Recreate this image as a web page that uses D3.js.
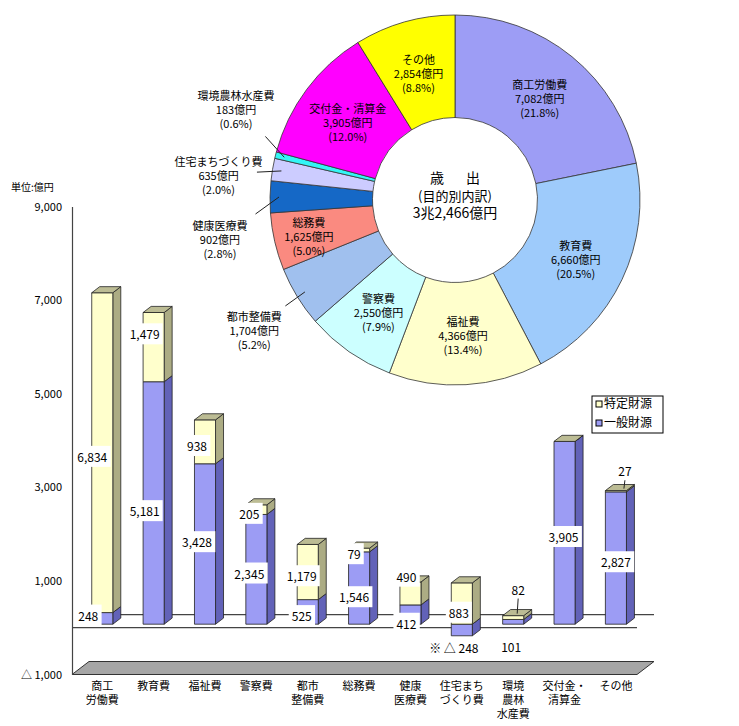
<!DOCTYPE html>
<html>
<head>
<meta charset="utf-8">
<script src="https://cdn.jsdelivr.net/npm/d3@7"></script>
<style>
  body { margin: 0; background: #fff; }
  text { font-family: "Noto Sans CJK JP", "Noto Sans", sans-serif; fill: #000; }
</style>
</head>
<body>
<svg id="chart" width="739" height="726"></svg>
<script>
// ---- donut data (歳出 目的別内訳) ----
const pieNames = ["商工労働費", "教育費", "福祉費", "警察費", "都市整備費", "総務費",
  "健康医療費", "住宅まちづくり費", "環境農林水産費", "交付金・清算金", "その他"];
const pieValues = [7082, 6660, 4366, 2550, 1704, 1625, 902, 635, 183, 3905, 2854];
const pieColors = ["#9d9df5", "#9ecbfb", "#ffffcc", "#ccffff", "#a0c0ee", "#fa8a80",
  "#1568c6", "#ccccff", "#33f5f5", "#ff00ff", "#ffff00"];
// labels drawn outside the ring, with an angle tweak (degrees)
const outsideShift = { "都市整備費": -1, "健康医療費": -10, "住宅まちづくり費": -3, "環境農林水産費": 9 };

// ---- bar data ----
const barCats = [["商工", "労働費"], ["教育費"], ["福祉費"], ["警察費"], ["都市", "整備費"], ["総務費"],
  ["健康", "医療費"], ["住宅まち", "づくり費"], ["環境", "農林", "水産費"], ["交付金・", "清算金"], ["その他"]];
const generalFund = [248, 5181, 3428, 2345, 525, 1546, 412, -248, 101, 3905, 2827];   // 一般財源
const specificFund = [6834, 1479, 938, 205, 1179, 79, 490, 883, 82, 0, 27];          // 特定財源
const yTicks = [-1000, 1000, 3000, 5000, 7000, 9000];

// label nudges for the bar values (hand placed in the original)
const nudge = {
  "0g": { dx: -4, dy: -7 }, "1s": { dy: -17 }, "1g": { dy: 4 }, "2g": { dy: -6 },
  "5g": { dy: 5 }, "6g": { dy: 5 }, "6s": { dy: -21 }, "7s": { dy: 5 },
  "7g": { dx: -5, dy: 14, plain: true }, "8g": { dy: 21, plain: true },
  "8s": { dx: 7, dy: -32, leader: true }, "10s": { dx: 9, dy: -24, leader: true }
};

const svg = d3.select("#chart");
const fmt = d3.format(",");

// ================= bar chart =================
const yScale = d3.scaleLinear().domain([-1000, 9000]).range([674.5, 206.5]);
const xBand = d3.scaleBand().domain(d3.range(barCats.length))
  .range([72, 637]).paddingInner(0.59).paddingOuter(0.295);

const depthX = 17, depthY = -13;            // 3D depth of the plot box
const fx = depthX * 0.27, fy = depthY * 0.27; // bar front face position
const bdx = depthX * 0.47, bdy = depthY * 0.47; // bar depth

const chart = svg.append("g");

// floor
const fl = yScale(-1000);
chart.append("polygon")
  .attr("points", [[72, fl], [72 + depthX, fl + depthY], [637 + depthX, fl + depthY], [637, fl]].join(" "))
  .attr("fill", "#a6a6a6").attr("stroke", "#333").attr("stroke-width", 1);

// zero lines (back wall and front)
const y0 = yScale(0);
chart.append("line").attr("x1", 72 + depthX).attr("x2", 637 + depthX)
  .attr("y1", y0 + depthY).attr("y2", y0 + depthY).attr("stroke", "#444").attr("stroke-width", 1.2);
chart.append("line").attr("x1", 72).attr("x2", 637)
  .attr("y1", y0).attr("y2", y0).attr("stroke", "#444").attr("stroke-width", 1.2);

// axis
const yAxisCall = d3.axisLeft(yScale).tickValues(yTicks).tickSize(0).tickSizeOuter(0).tickPadding(10)
  .tickFormat(v => v < 0 ? "△ " + fmt(-v) : fmt(v));
const yAxis = chart.append("g").attr("transform", "translate(72,0)").call(yAxisCall);
yAxis.select(".domain").attr("stroke", "#444").attr("stroke-width", 1.2);
yAxis.selectAll("text").attr("font-size", 11).style("font-family", "'Noto Sans CJK JP', sans-serif");

chart.append("text").attr("x", 11).attr("y", 191).attr("font-size", 10).text("単位:億円");

const colors = {
  g: { front: "#9c9cf4", side: "#6262b8" },
  s: { front: "#ffffcc", side: "#acac84" },
  top: "#bcbc94"
};

function drawSeg(i, a, b, c, withTop) {
  const x0 = xBand(i) + fx, w = xBand.bandwidth();
  const yT = yScale(Math.max(a, b)) + fy, yB = yScale(Math.min(a, b)) + fy;
  const g = chart.append("g").attr("stroke", "#222").attr("stroke-width", 0.8).attr("stroke-linejoin", "round");
  g.append("polygon")
    .attr("points", [[x0 + w, yT], [x0 + w + bdx, yT + bdy], [x0 + w + bdx, yB + bdy], [x0 + w, yB]].join(" "))
    .attr("fill", c.side);
  g.append("rect").attr("x", x0).attr("y", yT).attr("width", w).attr("height", yB - yT).attr("fill", c.front);
  if (withTop) {
    g.append("polygon")
      .attr("points", [[x0, yT], [x0 + bdx, yT + bdy], [x0 + w + bdx, yT + bdy], [x0 + w, yT]].join(" "))
      .attr("fill", colors.top);
  }
}

const segs = [];
barCats.forEach((cat, i) => {
  const gv = generalFund[i], sv = specificFund[i];
  const sBase = Math.max(gv, 0);
  drawSeg(i, 0, gv, colors.g, false);
  drawSeg(i, sBase, sBase + sv, colors.s, true);
  segs.push({ i, key: i + "g", v: gv, mid: gv / 2, top: sBase + sv });
  if (sv > 0) segs.push({ i, key: i + "s", v: sv, mid: sBase + sv / 2, top: sBase + sv });
});

// value labels
const labels = chart.append("g");
segs.forEach(s => {
  const n = nudge[s.key] || {};
  const cx = xBand(s.i) + fx + xBand.bandwidth() / 2;
  const x = cx - 10 + s.i + (n.dx || 0);
  const y = yScale(s.mid) + fy + 5 + (n.dy || 0);
  const txt = s.v < 0 ? "※ △ " + fmt(-s.v) : fmt(s.v);
  const t = labels.append("text").attr("x", x).attr("y", y).attr("dy", "0.35em")
    .attr("text-anchor", "middle").attr("font-size", 12).text(txt);
  if (!n.plain) {
    const bb = t.node().getBBox();
    labels.insert("rect", () => t.node())
      .attr("x", bb.x - 3).attr("y", bb.y - 2).attr("width", bb.width + 6).attr("height", bb.height + 4)
      .attr("fill", "#fff");
  }
  if (n.leader) {
    labels.append("line").attr("x1", x).attr("y1", y + 8)
      .attr("x2", x - 1).attr("y2", yScale(s.top) + fy - 2)
      .attr("stroke", "#222").attr("stroke-width", 1);
  }
});

// category labels
barCats.forEach((cat, i) => {
  const cx = xBand(i) + fx + xBand.bandwidth() / 2;
  const t = chart.append("text").attr("text-anchor", "middle").attr("font-size", 11);
  cat.forEach((line, k) => t.append("tspan").attr("x", cx).attr("y", 690 + k * 14).text(line));
});

// legend
const legend = chart.append("g");
legend.append("rect").attr("x", 592).attr("y", 396).attr("width", 71).attr("height", 37)
  .attr("fill", "#fff").attr("stroke", "#000").attr("stroke-width", 1);
[["特定財源", colors.s.front], ["一般財源", colors.g.front]].forEach(([name, col], k) => {
  legend.append("rect").attr("x", 596).attr("y", 401 + k * 19).attr("width", 6).attr("height", 6)
    .attr("fill", col).attr("stroke", "#000").attr("stroke-width", 1);
  legend.append("text").attr("x", 604).attr("y", 404 + k * 19).attr("dy", "0.35em")
    .attr("font-size", 12).text(name);
});

// ================= donut =================
const pcx = 455, pcy = 200, rOut = 185, rIn = 82.5;
const total = d3.sum(pieValues);
const pieData = d3.pie().sort(null).value(d => d)(pieValues);
const arc = d3.arc().innerRadius(rIn).outerRadius(rOut);
const donut = svg.append("g").attr("transform", `translate(${pcx},${pcy})`);

donut.selectAll("path").data(pieData).join("path")
  .attr("d", arc)
  .attr("fill", (d, i) => pieColors[i])
  .attr("stroke", "#333").attr("stroke-width", 0.8);

const polar = (r, a) => [r * Math.sin(a), -r * Math.cos(a)];

pieData.forEach((d, i) => {
  const name = pieNames[i];
  const lines = [name, fmt(d.value) + "億円", "(" + (d.value / total * 100).toFixed(1) + "%)"];
  const mid = (d.startAngle + d.endAngle) / 2;
  let pos;
  if (name in outsideShift) {
    const a2 = mid + outsideShift[name] * Math.PI / 180;
    pos = polar(238, a2);
    const p1 = polar(176, mid), p2 = polar(200, (mid + a2) / 2);
    donut.append("line").attr("x1", p1[0]).attr("y1", p1[1]).attr("x2", p2[0]).attr("y2", p2[1])
      .attr("stroke", "#222").attr("stroke-width", 1);
  } else {
    pos = d.value / total < 0.06 ? polar(150, mid) : arc.centroid(d);
  }
  const t = donut.append("text").attr("text-anchor", "middle").attr("font-size", 11);
  lines.forEach((l, k) => t.append("tspan").attr("x", pos[0]).attr("y", pos[1] + 3 + (k - 1) * 14)
    .attr("dy", "0.35em").text(l));
});

// centre caption
donut.append("text").attr("x", -18).attr("y", -22).attr("dy", "0.35em").attr("text-anchor", "middle")
  .attr("font-size", 14).text("歳");
donut.append("text").attr("x", 18).attr("y", -22).attr("dy", "0.35em").attr("text-anchor", "middle")
  .attr("font-size", 14).text("出");
donut.append("text").attr("x", 0).attr("y", -4).attr("dy", "0.35em").attr("text-anchor", "middle")
  .attr("font-size", 13).text("(目的別内訳)");
donut.append("text").attr("x", 0).attr("y", 13).attr("dy", "0.35em").attr("text-anchor", "middle")
  .attr("font-size", 14).text("3兆2,466億円");
</script>
</body>
</html>
